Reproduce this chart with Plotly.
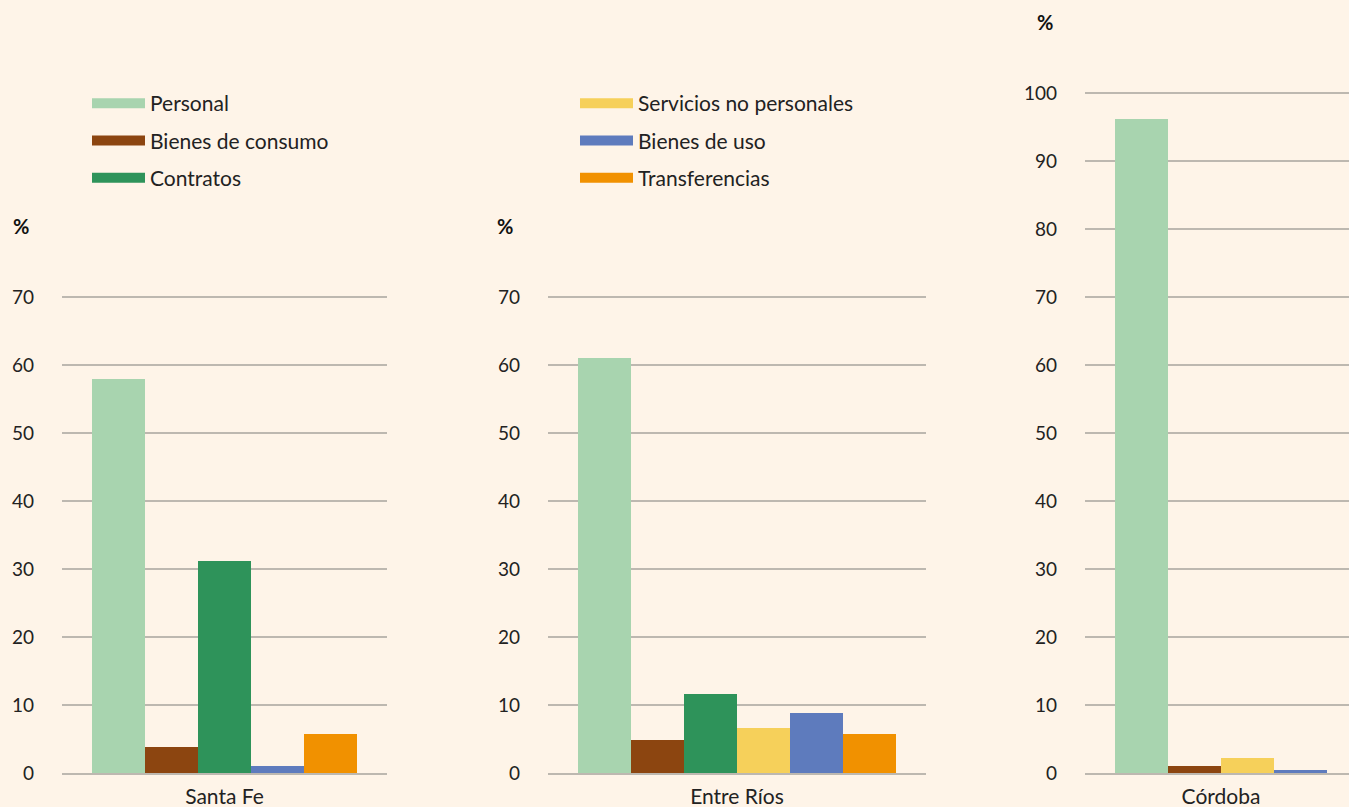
import plotly.graph_objects as go
from plotly.subplots import make_subplots


# Colour used for every spending item, in the order of the legend
COLORS = {
    "Personal": "#A8D4AF",
    "Bienes de consumo": "#8C4510",
    "Contratos": "#2E935A",
    "Servicios no personales": "#F6D05A",
    "Bienes de uso": "#5E7BBD",
    "Transferencias": "#F19100",
}

# Share (%) of each item in the budget of every province
DATA = {
    "Santa Fe": {
        "Personal": 57.9,
        "Bienes de consumo": 3.9,
        "Contratos": 31.2,
        "Bienes de uso": 1.0,
        "Transferencias": 5.7,
    },
    "Entre Ríos": {
        "Personal": 61.0,
        "Bienes de consumo": 4.9,
        "Contratos": 11.6,
        "Servicios no personales": 6.7,
        "Bienes de uso": 8.8,
        "Transferencias": 5.7,
    },
    "Córdoba": {
        "Personal": 96.2,
        "Bienes de consumo": 1.1,
        "Servicios no personales": 2.2,
        "Bienes de uso": 0.4,
    },
}

# Horizontal extent (px) of every panel
PANELS = {"Santa Fe": (62, 387), "Entre Ríos": (548, 926), "Córdoba": (1085, 1349)}

BG = "#FEF4E8"
GRID = "#BDB8B0"
FONT = "Lato"
W, H = 1349, 807
ZERO_PX, PX_PER_UNIT = 773, 6.8  # every panel shares the same vertical scale
BAR_PX, PAD_PX = 53, 30  # width of a bar and blank space before the first one


class PlotlyBackend:
    """
    Small helper that builds the three province panels with Plotly.
    """

    @staticmethod
    def add_province(f: go.Figure, province: str, values: dict, col: int):
        """
        Add one bar per item of a province in its own panel.

        Args
            f (go.Figure): Figure with the subplots already created
            province (str): Name of the province, shown under the bars
            values (dict): Item -> share of the budget (%)
            col (int): Column of the subplot
        """
        for pos, (item, share) in enumerate(values.items()):
            f.add_trace(
                go.Bar(x=[pos], y=[share], width=1, marker_color=COLORS[item],
                       marker_line_width=0, name=item, showlegend=False),
                row=1, col=col)
        n = len(values)
        left, right = PANELS[province]
        start = -0.5 - PAD_PX / BAR_PX
        f.update_xaxes(domain=[left / W, right / W],
                       range=[start, start + (right - left) / BAR_PX],
                       tickvals=[(n - 1) / 2], ticktext=[province], row=1, col=col)

    @staticmethod
    def y_domain(top: float):
        """
        Vertical domain of a panel whose axis goes from 0 to top.
        """
        top_px = ZERO_PX - top * PX_PER_UNIT
        return [1 - ZERO_PX / H, 1 - top_px / H]

    @staticmethod
    def add_legend(f: go.Figure):
        """
        Legend split in two columns, drawn with wide line swatches.
        """
        for i, (item, color) in enumerate(COLORS.items()):
            f.add_trace(
                go.Scatter(x=[None], y=[None], mode="lines", name=item,
                           line=dict(color=color, width=15), legendgroup=item,
                           legend="legend" if i < 3 else "legend2"),
                row=1, col=1)


f = make_subplots(rows=1, cols=3)
for col, (province, values) in enumerate(DATA.items(), start=1):
    PlotlyBackend.add_province(f, province, values, col)
PlotlyBackend.add_legend(f)

f.update_layout(
    yaxis=dict(domain=PlotlyBackend.y_domain(70.6), range=[0, 70.6]),
    yaxis2=dict(domain=PlotlyBackend.y_domain(70.6), range=[0, 70.6]),
    yaxis3=dict(domain=PlotlyBackend.y_domain(100.6), range=[0, 100.6]),
)
f.update_xaxes(showgrid=False, zeroline=False, showline=True, linecolor=GRID,
               linewidth=1.5, ticks="", ticklabelstandoff=4, layer="above traces",
               automargin=False, tickfont=dict(size=21, color="#222"))
f.update_yaxes(dtick=10, showgrid=True, gridcolor=GRID, gridwidth=1.5, zeroline=False,
               ticks="", ticklabelstandoff=27, automargin=False,
               tickfont=dict(size=19, color="#222"))

# "%" unit over every y axis
for x, y in [(21, 226), (505, 226), (1045, 22)]:
    f.add_annotation(x=x / W, y=1 - y / H, xref="paper", yref="paper", text="<b>%</b>",
                     xanchor="center", yanchor="middle", showarrow=False,
                     font=dict(size=20, color="#111"))

legend_style = dict(yanchor="top", y=1 - 83 / H, bgcolor="rgba(0,0,0,0)",
                    font=dict(size=21, color="#222", family=FONT), itemwidth=53,
                    tracegroupgap=7, orientation="v")
f.update_layout(
    font=dict(family=FONT, color="#222"),
    paper_bgcolor=BG,
    plot_bgcolor=BG,
    barmode="overlay",
    bargap=0,
    width=W,
    height=H,
    margin=dict(l=0, r=0, t=0, b=0),
    legend=dict(x=87 / W, **legend_style),
    legend2=dict(x=575 / W, **legend_style),
)
f.write_html("out.html", config={"displayModeBar": False},
             post_script="document.body.style.margin = '0';")
